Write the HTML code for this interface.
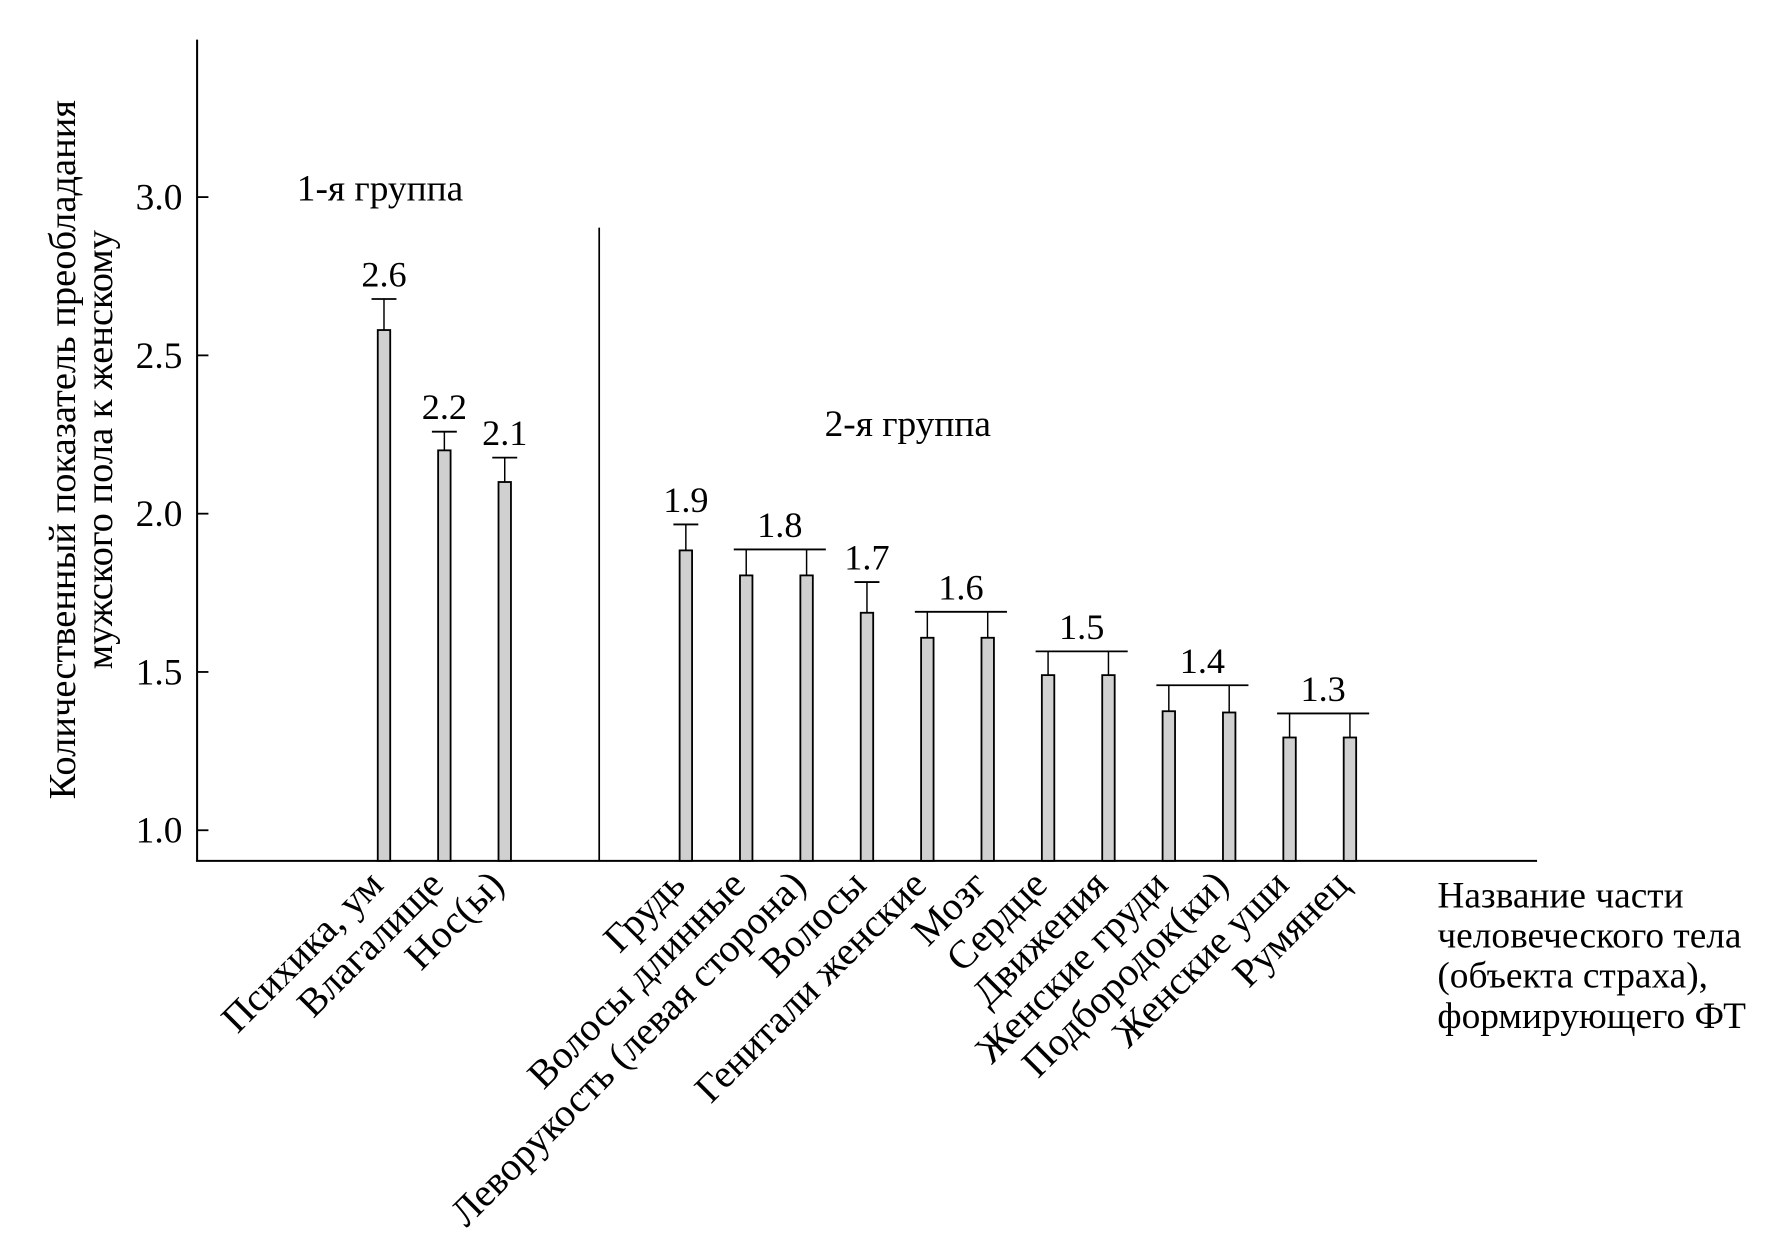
<!DOCTYPE html>
<html><head><meta charset="utf-8"><style>
html,body{margin:0;padding:0;background:#fff}
svg{display:block}
text{font-family:"Liberation Serif","Times New Roman",serif;fill:#000}
</style></head>
<body>
<svg id="chart" width="1767" height="1243" viewBox="0 0 1560 1097.4" xmlns="http://www.w3.org/2000/svg">
<g id="g"></g>
</svg>
<script>
const categories=["Психика, ум","Влагалище","Нос(ы)","Грудь","Волосы длинные","Леворукость (левая сторона)","Волосы","Генитали женские","Мозг","Сердце","Движения","Женские груди","Подбородок(ки)","Женские уши","Румянец"];
const values=[2.58,2.20,2.10,1.884,1.805,1.805,1.687,1.608,1.608,1.49,1.49,1.376,1.372,1.293,1.293];
const errTop=[2.678,2.259,2.177,1.966,1.887,1.887,1.784,1.69,1.69,1.565,1.565,1.458,1.458,1.369,1.369];
const groupId=[0,1,2,3,4,4,5,6,6,7,7,8,8,9,9];
const groupLabels=["2.6","2.2","2.1","1.9","1.8","1.7","1.6","1.5","1.4","1.3"];
const yTicks=[1.0,1.5,2.0,2.5,3.0];
const slotIndex=[3,4,5,8,9,10,11,12,13,14,15,16,17,18,19];

const NS="http://www.w3.org/2000/svg";
const g=document.getElementById('g');
const y=v=>733-(v-1)*279.5;
const x=s=>339+(s-3)*53.3;
function el(t,a,txt){const e=document.createElementNS(NS,t);for(const k in a)e.setAttribute(k,a[k]);if(txt!==undefined)e.textContent=txt;g.appendChild(e);return e;}

let e=el('line',{x1:174,y1:35,x2:174,y2:760,stroke:'#000','stroke-width':1.8});


e=el('line',{x1:173,y1:760,x2:1357,y2:760,stroke:'#000','stroke-width':1.8});


e=el('line',{x1:529,y1:201,x2:529,y2:760,stroke:'#000','stroke-width':1.5});



yTicks.forEach(t=>{
  const ln=el('line',{x1:174,y1:y(t),x2:184,y2:y(t),stroke:'#000','stroke-width':1.6});
  
  
  const tx=el('text',{x:161,y:y(t)+11,'text-anchor':'end','font-size':33},t.toFixed(1));
  
  
});

const groups={};
values.forEach((v,i)=>{const gi=groupId[i];(groups[gi]=groups[gi]||[]).push(i);});

Object.keys(groups).forEach(gi=>{
  const idx=groups[gi];
  const top=y(errTop[idx[0]]);
  if(idx.length===1){
    const cx=x(slotIndex[idx[0]]);
    const c=el('line',{x1:cx-11,y1:top,x2:cx+11,y2:top,stroke:'#000','stroke-width':1.6});
    
    
  }else{
    const a=x(slotIndex[idx[0]]),b=x(slotIndex[idx[idx.length-1]]);
    const c=el('line',{x1:a-11,y1:top,x2:b+17,y2:top,stroke:'#000','stroke-width':1.6});
    
    
  }
  idx.forEach(i=>{
    const cx=x(slotIndex[i]);
    const w=el('line',{x1:cx,y1:top,x2:cx,y2:y(values[i]),stroke:'#000','stroke-width':1.3});
    
    
  });
  const mid=(x(slotIndex[idx[0]])+x(slotIndex[idx[idx.length-1]]))/2+(idx.length>1?3:0);
  const lt=el('text',{x:mid,y:top-11,'text-anchor':'middle','font-size':32},groupLabels[gi]);
  
  
});

values.forEach((v,i)=>{
  const cx=x(slotIndex[i]);
  const r=el('rect',{x:cx-5.5,y:y(v),width:11,height:760-y(v),fill:'#d0d0d0',stroke:'#000','stroke-width':1.6});
  
  
  const t=el('text',{x:0,y:0,'text-anchor':'end','font-size':35,transform:`translate(${cx+1},${783}) rotate(-45)`},categories[i]);
  
  
});

e=el('text',{x:262,y:177,'font-size':33},'1-я группа');


e=el('text',{x:728,y:385,'font-size':33},'2-я группа');



e=el('text',{x:0,y:0,'text-anchor':'middle','font-size':34,transform:'translate(66,397) rotate(-90)'},'Количественный показатель преобладания');


e=el('text',{x:0,y:0,'text-anchor':'middle','font-size':34,transform:'translate(99,397) rotate(-90)'},'мужского пола к женскому');



["Название части","человеческого тела","(объекта страха),","формирующего ФТ"].forEach((s,k)=>{
  const t=el('text',{x:1269,y:801+k*35.5,'font-size':33},s);
  
  
});
</script>
</body></html>
